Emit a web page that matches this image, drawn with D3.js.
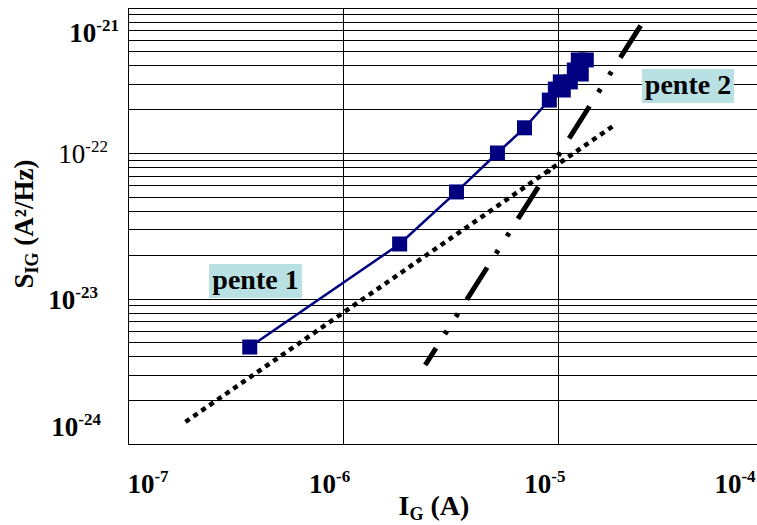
<!DOCTYPE html>
<html>
<head>
<meta charset="utf-8">
<script src="https://d3js.org/d3.v7.min.js"></script>
<style>
    body { margin: 0; background: #fff; }
    svg text { font-family: "Liberation Serif", "DejaVu Serif", serif; font-weight: bold; fill: #000; }
</style>
</head>
<body>
<svg id="chart" width="757" height="525"></svg>
<script>
// measured points (I_G in A, S_IG in A^2/Hz)
var igValues  = [3.70e-7, 1.84e-6, 3.38e-6, 5.24e-6, 7.0e-6, 9.13e-6, 9.74e-6, 1.027e-5, 1.06e-5, 1.143e-5, 1.193e-5, 1.245e-5, 1.285e-5, 1.356e-5];
var sigValues = [4.64e-24, 2.37e-23, 5.4e-23, 1.0e-22, 1.49e-22, 2.31e-22, 2.75e-22, 3.08e-22, 2.71e-22, 3.08e-22, 3.72e-22, 4.36e-22, 3.49e-22, 4.36e-22];

// reference slopes
var pente1X = [1.86e-7, 1.86e-5];
var pente1Y = [1.42e-24, 1.58e-22];
var pente2X = [2.42e-6, 2.59e-5];
var pente2Y = [3.49e-24, 8.74e-22];

var xTickValues = [1e-7, 1e-6, 1e-5, 1e-4];
var xTickExp = ["-7", "-6", "-5", "-4"];
var yTickValues = [1e-21, 1e-22, 1e-23, 1e-24];
var yTickExp = ["-21", "-22", "-23", "-24"];

var svg = d3.select("#chart");

var x = d3.scaleLog().domain([1e-7, 1e-4]).range([127.5, 773]);
var y = d3.scaleLog().domain([1e-24, 1e-21]).range([444, 7.5]);

var grid = svg.append("g").attr("shape-rendering", "crispEdges");

// horizontal grid (major + minor)
grid.selectAll(".hline")
    .data(y.ticks())
    .enter().append("line")
    .attr("x1", x(1e-7)).attr("x2", 757)
    .attr("y1", function(d) { return Math.round(y(d)) + 0.5; })
    .attr("y2", function(d) { return Math.round(y(d)) + 0.5; })
    .attr("stroke", "#000").attr("stroke-width", 1);

// vertical grid, decades only
grid.selectAll(".vline")
    .data(xTickValues.slice(1, 3))
    .enter().append("line")
    .attr("x1", function(d) { return Math.round(x(d)) + 0.5; })
    .attr("x2", function(d) { return Math.round(x(d)) + 0.5; })
    .attr("y1", y(1e-21)).attr("y2", y(1e-24))
    .attr("stroke", "#000").attr("stroke-width", 1.3);

// axis lines
grid.append("line")
    .attr("x1", Math.round(x(1e-7)) + 0.5).attr("x2", Math.round(x(1e-7)) + 0.5)
    .attr("y1", y(1e-21)).attr("y2", y(1e-24) + 1)
    .attr("stroke", "#000").attr("stroke-width", 1.5);
grid.append("line")
    .attr("x1", x(1e-7)).attr("x2", 757)
    .attr("y1", Math.round(y(1e-24)) + 0.5).attr("y2", Math.round(y(1e-24)) + 0.5)
    .attr("stroke", "#000").attr("stroke-width", 1.5);

// pente 1 : dotted
svg.append("line")
    .attr("x1", x(pente1X[0])).attr("y1", y(pente1Y[0]))
    .attr("x2", x(pente1X[1])).attr("y2", y(pente1Y[1]))
    .attr("stroke", "#000").attr("stroke-width", 4.5)
    .attr("stroke-dasharray", "5,4.7");

// pente 2 : long dash - dot - dot
svg.append("line")
    .attr("x1", x(pente2X[0])).attr("y1", y(pente2Y[0]))
    .attr("x2", x(pente2X[1])).attr("y2", y(pente2Y[1]))
    .attr("stroke", "#000").attr("stroke-width", 5)
    .attr("stroke-dasharray", "38,16.5,4,16.5,4,16.5")
    .attr("stroke-dashoffset", 18);

// measured series
var pts = igValues.map(function(v, i) { return [v, sigValues[i]]; });
var line = d3.line()
    .x(function(d) { return x(d[0]); })
    .y(function(d) { return y(d[1]); });

svg.append("path")
    .datum(pts)
    .attr("d", line)
    .attr("fill", "none")
    .attr("stroke", "#000080")
    .attr("stroke-width", 2.5);

svg.selectAll(".pt")
    .data(pts)
    .enter().append("rect")
    .attr("class", "pt")
    .attr("x", function(d) { return x(d[0]) - 7.5; })
    .attr("y", function(d) { return y(d[1]) - 7.5; })
    .attr("width", 15).attr("height", 15)
    .attr("fill", "#000080");

// x tick labels
var xl = svg.selectAll(".xlab")
    .data(xTickValues)
    .enter().append("text")
    .attr("class", "xlab")
    .attr("x", function(d) { return Math.max(148, Math.min(735, x(d) - 13)); })
    .attr("y", 493)
    .attr("text-anchor", "middle")
    .attr("font-size", 27);
xl.append("tspan").text("10");
xl.append("tspan").attr("dy", -11).attr("font-size", 17).text(function(d, i) { return xTickExp[i]; });

// y tick labels
var yLabelShift = [0, -11, -21, -18];
var yl = svg.selectAll(".ylab")
    .data(yTickValues)
    .enter().append("text")
    .attr("class", "ylab")
    .attr("x", function(d, i) { return 119 + yLabelShift[i]; })
    .attr("y", function(d) { return Math.max(42, Math.min(436, y(d) + 10)); })
    .attr("text-anchor", "end")
    .attr("font-size", 27)
    .style("font-weight", function(d, i) { return i === 1 ? "normal" : "bold"; });
yl.append("tspan").text("10");
yl.append("tspan").attr("dy", -11).attr("font-size", 17).text(function(d, i) { return yTickExp[i]; });

// axis titles
var xt = svg.append("text")
    .attr("x", 434).attr("y", 515)
    .attr("text-anchor", "middle")
    .attr("font-size", 28);
xt.append("tspan").text("I");
xt.append("tspan").attr("dy", 5).attr("font-size", 18).text("G");
xt.append("tspan").attr("dy", -5).text(" (A)");

var yt = svg.append("text")
    .attr("transform", "translate(33,224) rotate(-90)")
    .attr("text-anchor", "middle")
    .attr("font-size", 27);
yt.append("tspan").text("S");
yt.append("tspan").attr("dy", 5).attr("font-size", 18).text("IG");
yt.append("tspan").attr("dy", -5).text(" (A\u00b2/Hz)");

// slope labels
function penteLabel(txt, x0, y0, w, h) {
    svg.append("rect")
        .attr("x", x0).attr("y", y0).attr("width", w).attr("height", h)
        .attr("fill", "#b9e0e3");
    svg.append("text")
        .attr("x", x0 + w / 2).attr("y", y0 + h - 9)
        .attr("text-anchor", "middle")
        .attr("font-size", 28)
        .text(txt);
}
penteLabel("pente 1", 209, 264, 93, 34);
penteLabel("pente 2", 642, 69, 92, 34);
</script>
</body>
</html>
